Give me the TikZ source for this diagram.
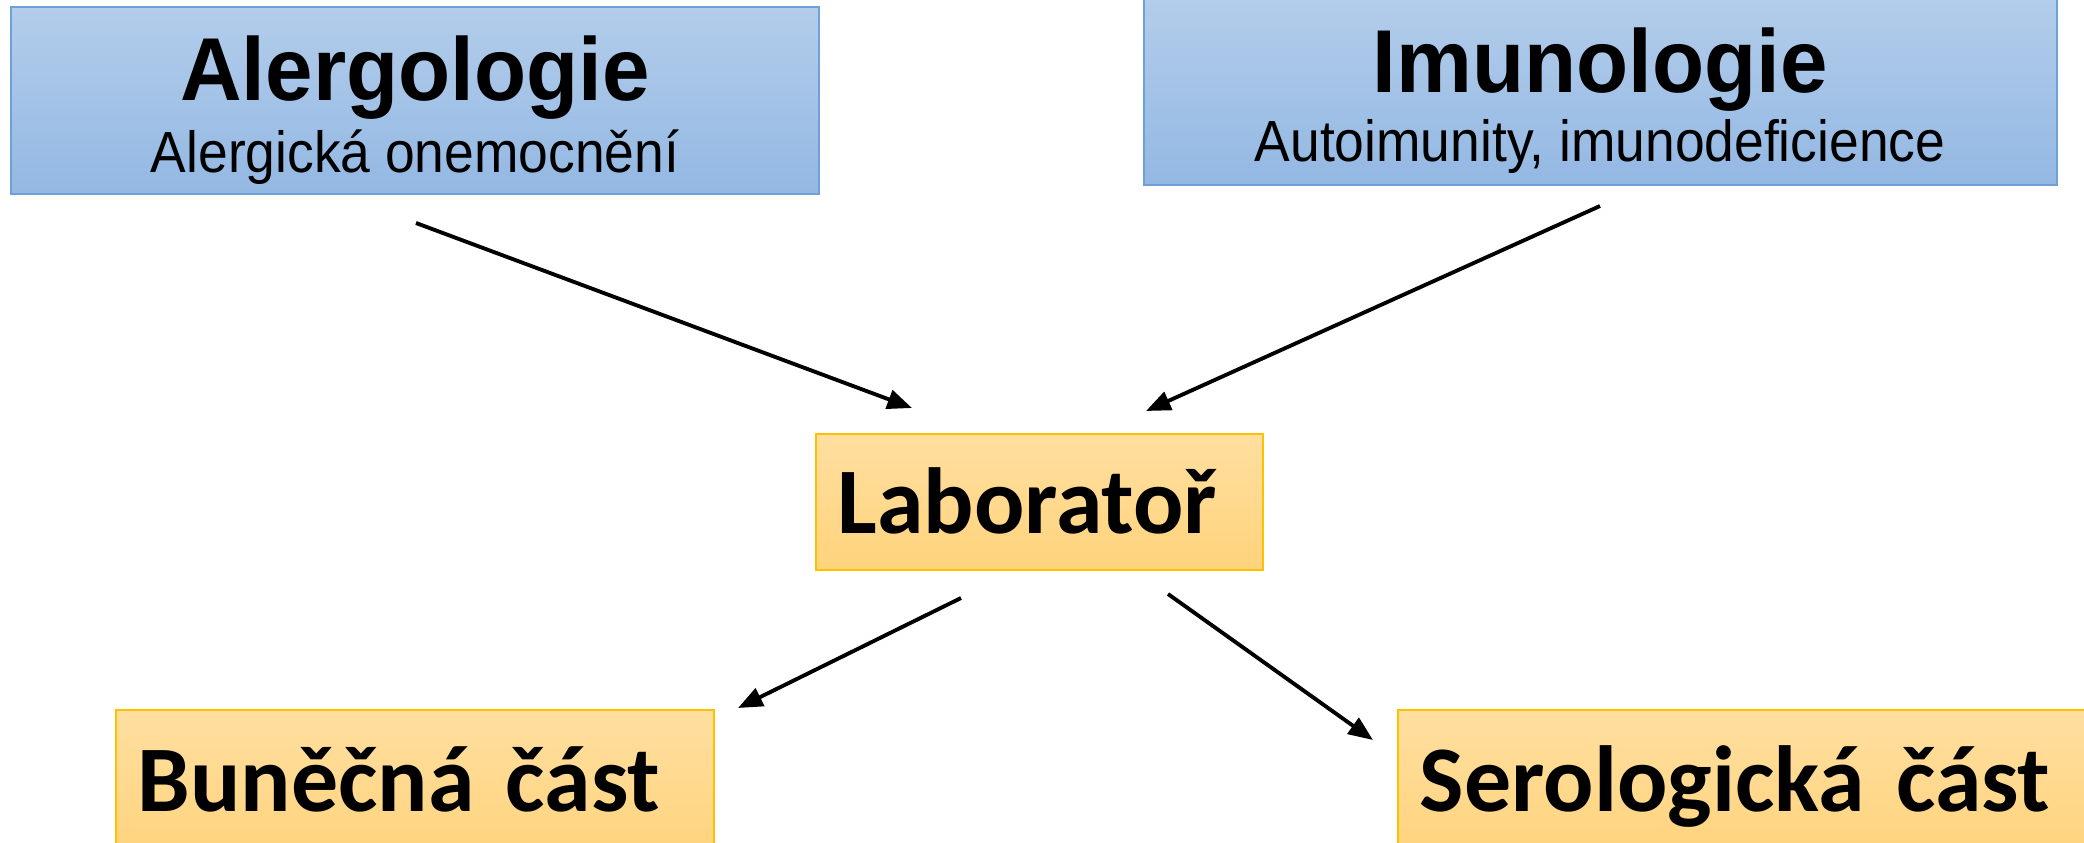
\documentclass[tikz,border=0pt]{standalone}
\usepackage{fontspec}
\setmainfont{Liberation Sans}
\newfontfamily\headfont[FakeStretch=0.955]{Liberation Sans}
\newfontfamily\subfont[FakeStretch=0.92]{Liberation Sans}
\newfontfamily\calfont{Carlito}
\usetikzlibrary{arrows.meta}

\definecolor{boxblue}{HTML}{6FA0DA}
\definecolor{bluetop}{HTML}{B3CDEB}
\definecolor{bluebot}{HTML}{93B8E3}
\definecolor{boxgold}{HTML}{FFC000}
\definecolor{goldtop}{HTML}{FFDFA0}
\definecolor{goldbot}{HTML}{FFD37C}

\tikzset{
	bluebox/.style={draw=boxblue, line width=0.6pt, top color=bluetop, bottom color=bluebot, inner sep=0pt},
	goldbox/.style={draw=boxgold, line width=0.6pt, top color=goldtop, bottom color=goldbot, inner ysep=0pt, inner xsep=0.22cm, align=left, anchor=base, font=\calfont\bfseries\fontsize{26.7}{30}\selectfont},
	titletext/.style={anchor=base, font=\headfont\bfseries\fontsize{25.4}{30}\selectfont},
	subtext/.style={anchor=base, font=\subfont\fontsize{16.5}{20}\selectfont},
	arr/.style={line width=1.1pt, -{Triangle[length=7pt,width=5.5pt]}}
}

\begin{document}
\begin{tikzpicture}[x=0.01cm, y=-0.01cm]
	\useasboundingbox (0,0) rectangle (2084,842);
	\clip (0,0) rectangle (2084,842);
	% top boxes
	\node[bluebox, minimum width=8.08cm, minimum height=1.87cm] (alerg) at (415,100.5) {};
	\node[titletext] (alergT) at (415,100) {Alergologie};
	\node[subtext] (alergS) at (415,172) {Alergická onemocnění};
	\node[bluebox, minimum width=9.13cm, minimum height=1.87cm] (imun) at (1600.5,91.5) {};
	\node[titletext] (imunT) at (1600,92) {Imunologie};
	\node[subtext] (imunS) at (1600,161) {Autoimunity, imunodeficience};
	% lab and its two parts
	\node[goldbox, text width=4.03cm, text height=0.99cm, text depth=0.37cm] (lab) at (1039.5,533) {Laboratoř};
	\node[goldbox, text width=5.54cm, text height=1.01cm, text depth=0.49cm] (bun) at (415,811) {Buněčná část};
	\node[goldbox, text width=6.58cm, text height=1.01cm, text depth=0.49cm] (sero) at (1749,811) {Serologická část};
	% arrows
	\coordinate (alergOut) at (416,223);
	\coordinate (labInL) at (912,408);
	\coordinate (imunOut) at (1600,206);
	\coordinate (labInR) at (1146,411);
	\coordinate (labOutL) at (961,598);
	\coordinate (bunIn) at (738,708);
	\coordinate (labOutR) at (1168,594);
	\coordinate (seroIn) at (1373,740);
	\draw[arr] (alergOut) -- (labInL);
	\draw[arr] (imunOut) -- (labInR);
	\draw[arr] (labOutL) -- (bunIn);
	\draw[arr] (labOutR) -- (seroIn);
\end{tikzpicture}
\end{document}
